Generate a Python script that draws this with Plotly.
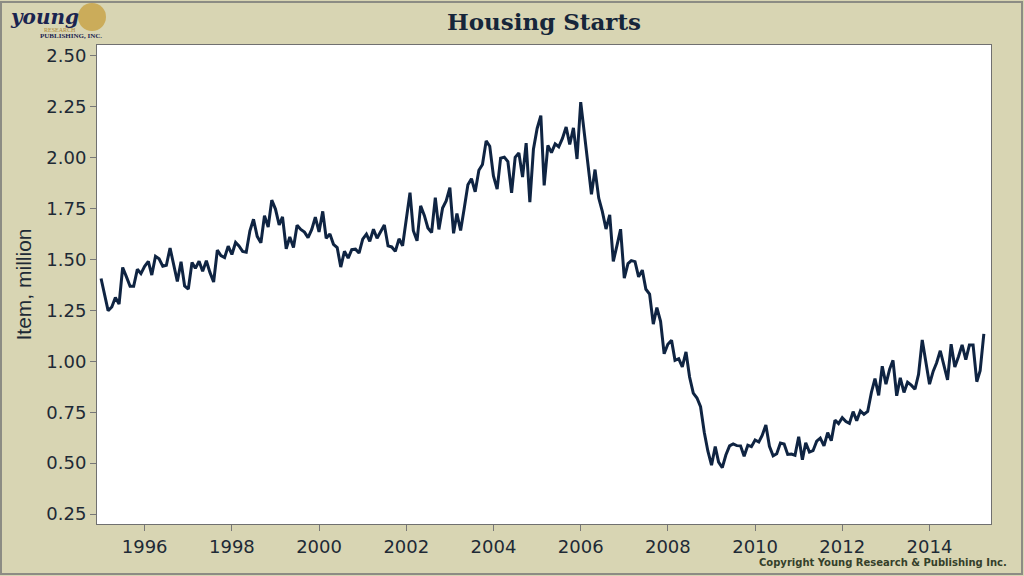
import plotly.graph_objects as go
import pandas as pd

# Monthly housing starts, million units (SAAR), Jan 1995 - Apr 2015
starts_1995 = [1.407, 1.316, 1.249, 1.267, 1.314, 1.281, 1.461, 1.416, 1.369, 1.369, 1.452, 1.431]
starts_1996 = [1.467, 1.491, 1.424, 1.516, 1.504, 1.467, 1.472, 1.557, 1.475, 1.392, 1.489, 1.370]
starts_1997 = [1.355, 1.486, 1.457, 1.492, 1.442, 1.494, 1.437, 1.390, 1.546, 1.520, 1.510, 1.566]
starts_1998 = [1.525, 1.584, 1.567, 1.540, 1.536, 1.641, 1.698, 1.614, 1.582, 1.715, 1.660, 1.792]
starts_1999 = [1.748, 1.670, 1.710, 1.553, 1.611, 1.559, 1.669, 1.648, 1.635, 1.608, 1.648, 1.708]
starts_2000 = [1.636, 1.737, 1.604, 1.626, 1.575, 1.559, 1.463, 1.541, 1.507, 1.549, 1.551, 1.532]
starts_2001 = [1.600, 1.625, 1.590, 1.649, 1.605, 1.636, 1.670, 1.567, 1.562, 1.540, 1.602, 1.568]
starts_2002 = [1.698, 1.829, 1.642, 1.592, 1.764, 1.717, 1.655, 1.633, 1.804, 1.648, 1.753, 1.788]
starts_2003 = [1.853, 1.629, 1.726, 1.643, 1.751, 1.867, 1.897, 1.833, 1.939, 1.967, 2.083, 2.057]
starts_2004 = [1.911, 1.846, 1.998, 2.003, 1.981, 1.828, 2.002, 2.024, 1.905, 2.072, 1.782, 2.042]
starts_2005 = [2.144, 2.207, 1.864, 2.061, 2.025, 2.068, 2.054, 2.095, 2.151, 2.065, 2.147, 1.994]
starts_2006 = [2.273, 2.119, 1.969, 1.821, 1.942, 1.802, 1.737, 1.650, 1.720, 1.491, 1.570, 1.649]
starts_2007 = [1.409, 1.480, 1.495, 1.490, 1.415, 1.448, 1.354, 1.330, 1.183, 1.264, 1.197, 1.037]
starts_2008 = [1.084, 1.103, 1.005, 1.013, 0.973, 1.046, 0.923, 0.844, 0.820, 0.777, 0.652, 0.560]
starts_2009 = [0.490, 0.582, 0.505, 0.478, 0.540, 0.585, 0.594, 0.586, 0.585, 0.534, 0.588, 0.581]
starts_2010 = [0.614, 0.604, 0.636, 0.687, 0.583, 0.536, 0.546, 0.599, 0.594, 0.543, 0.545, 0.539]
starts_2011 = [0.630, 0.517, 0.600, 0.554, 0.561, 0.608, 0.623, 0.585, 0.650, 0.610, 0.711, 0.694]
starts_2012 = [0.723, 0.704, 0.695, 0.753, 0.708, 0.757, 0.740, 0.754, 0.847, 0.915, 0.833, 0.976]
starts_2013 = [0.888, 0.962, 1.005, 0.831, 0.919, 0.847, 0.897, 0.883, 0.863, 0.936, 1.105, 1.003]
starts_2014 = [0.888, 0.952, 0.992, 1.052, 0.985, 0.909, 1.084, 0.972, 1.024, 1.081, 1.008, 1.080]
starts_2015 = [1.080, 0.900, 0.954, 1.135]

values = (starts_1995 + starts_1996 + starts_1997 + starts_1998 + starts_1999 + starts_2000 +
          starts_2001 + starts_2002 + starts_2003 + starts_2004 + starts_2005 + starts_2006 +
          starts_2007 + starts_2008 + starts_2009 + starts_2010 + starts_2011 + starts_2012 +
          starts_2013 + starts_2014 + starts_2015)
dates = pd.date_range("1995-01-01", periods=len(values), freq="MS")

tick_years = ["1996", "1998", "2000", "2002", "2004", "2006", "2008", "2010", "2012", "2014"]
y_ticks = [0.25, 0.50, 0.75, 1.00, 1.25, 1.50, 1.75, 2.00, 2.25, 2.50]

BG = "#D8D5B3"
NAVY = "#0F2442"
L, R, T, B = 97, 33, 45, 52
PW, PH = 1024 - L - R, 576 - T - B


def px(x):
    return (x - L) / PW


def py(y):
    return (576 - B - y) / PH


fig = go.Figure()
fig.add_trace(go.Scatter(x=dates, y=values, mode="lines",
                         line=dict(color=NAVY, width=3), hoverinfo="skip"))

fig.update_layout(
    width=1024, height=576,
    paper_bgcolor=BG, plot_bgcolor="white",
    margin=dict(l=L, r=R, t=T, b=B),
    showlegend=False,
    title=dict(text="<b>Housing Starts</b>", x=0.5, xref="paper", xanchor="center",
               y=1 - 22 / 576, yanchor="middle",
               font=dict(family="DejaVu Serif", size=23, color="#16263A")),
    xaxis=dict(
        type="date",
        range=["1994-11-28", "2015-05-31"],
        tickvals=[y + "-01-01" for y in tick_years],
        ticktext=tick_years,
        ticks="outside", ticklen=6, tickcolor="#777777",
        showgrid=False, zeroline=False,
        showline=True, linecolor="#707070", linewidth=1, mirror=True,
        tickfont=dict(family="DejaVu Sans", size=18, color="#1E2A36"),
    ),
    yaxis=dict(
        range=[0.201, 2.554],
        tickvals=y_ticks,
        tickformat=".2f",
        ticks="outside", ticklen=6, tickcolor="#777777",
        showgrid=False, zeroline=False,
        showline=True, linecolor="#707070", linewidth=1, mirror=True,
        tickfont=dict(family="DejaVu Sans", size=18, color="#1E2A36"),
        title=dict(text="Item, million", standoff=8,
                   font=dict(family="Liberation Sans Narrow, Arial Narrow, sans-serif", size=21, color="#1E2A36")),
    ),
)

# outer frame
fig.add_shape(type="rect", xref="paper", yref="paper",
              x0=px(1), x1=px(1022), y0=py(574), y1=py(2),
              line=dict(color="#8C8C84", width=2), fillcolor="rgba(0,0,0,0)", layer="below")

# logo
fig.add_shape(type="circle", xref="paper", yref="paper",
              x0=px(78), x1=px(106), y0=py(31), y1=py(3),
              line=dict(width=0), fillcolor="#C9A44A", opacity=0.85)
fig.add_annotation(text="<b><i>young</i></b>", xref="paper", yref="paper",
                   x=px(8), y=py(17), xanchor="left", yanchor="middle",
                   showarrow=False, font=dict(family="DejaVu Serif", size=20, color="#1A2450"))
fig.add_annotation(text="RESEARCH", xref="paper", yref="paper",
                   x=px(42), y=py(30), xanchor="left", yanchor="middle",
                   showarrow=False, font=dict(family="Liberation Serif", size=6, color="#B08A3A"))
fig.add_annotation(text="<b>PUBLISHING, INC.</b>", xref="paper", yref="paper",
                   x=px(38), y=py(36), xanchor="left", yanchor="middle",
                   showarrow=False, font=dict(family="Liberation Serif", size=7, color="#1A2450"))

# copyright
fig.add_annotation(text="<b>Copyright Young Research &amp; Publishing Inc.</b>", xref="paper", yref="paper",
                   x=px(1009), y=py(562), xanchor="right", yanchor="middle",
                   showarrow=False, font=dict(family="DejaVu Sans", size=10, color="#34402A"))

fig.write_html("out.html", config={"displayModeBar": False},
               post_script="document.body.style.margin='0';document.body.style.overflow='hidden';")
